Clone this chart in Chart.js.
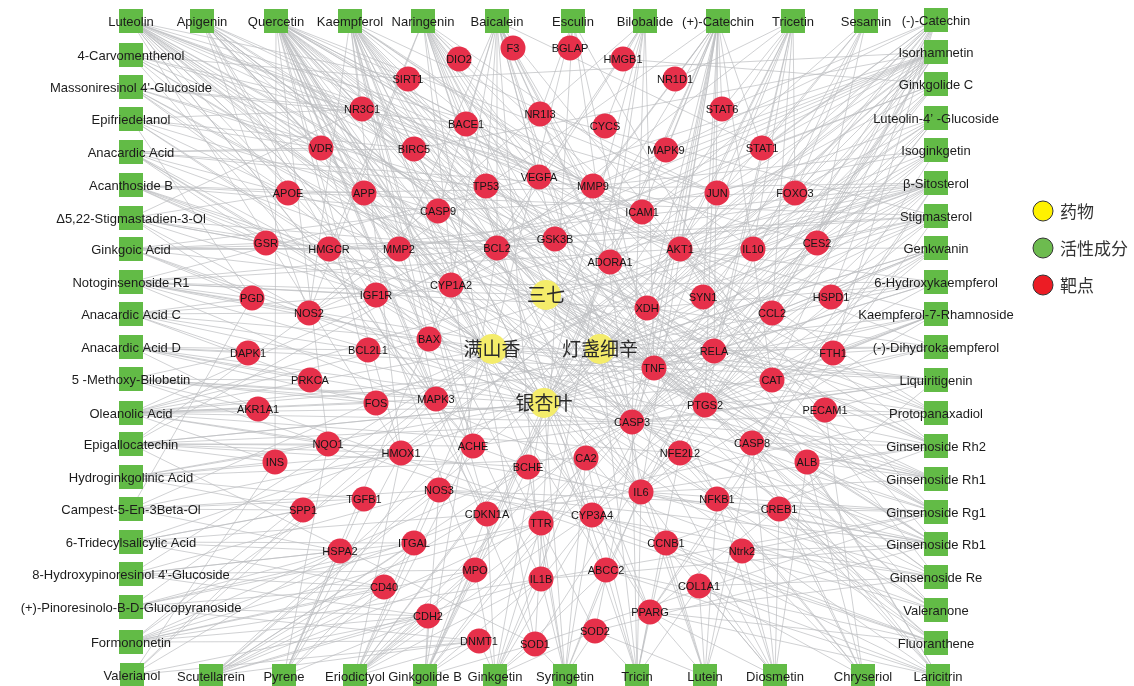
<!DOCTYPE html>
<html>
<head>
<meta charset="utf-8">
<script src="https://cdn.jsdelivr.net/npm/chart.js@4"></script>
<style>
  body { margin: 0; background: #fff; }
  canvas { display: block; }
</style>
</head>
<body>
<canvas id="netChart" width="1134" height="686"></canvas>
<script>
// 药物 (herbs)
const drugs = ['三七', '满山香', '灯盏细辛', '银杏叶'];
const drugXY = [[546, 295], [492, 349], [600, 349], [544, 403]];

// 活性成分 (compounds) - left column, bottom row, right column (bottom-up), top row (right-left)
const compounds = [
  'Luteolin', '4-Carvomenthenol', "Massoniresinol 4'-Glucoside", 'Epifriedelanol', 'Anacardic Acid',
  'Acanthoside B', 'Δ5,22-Stigmastadien-3-Ol', 'Ginkgoic Acid', 'Notoginsenoside R1', 'Anacardic Acid C',
  'Anacardic Acid D', '5 -Methoxy-Bilobetin', 'Oleanolic Acid', 'Epigallocatechin', 'Hydroginkgolinic Acid',
  'Campest-5-En-3Beta-Ol', '6-Tridecylsalicylic Acid', "8-Hydroxypinoresinol 4'-Glucoside",
  '(+)-Pinoresinolo-B-D-Glucopyranoside', 'Formononetin', 'Valerianol',
  'Scutellarein', 'Pyrene', 'Eriodictyol', 'Ginkgolide B', 'Ginkgetin', 'Syringetin', 'Tricin',
  'Lutein', 'Diosmetin', 'Chryseriol', 'Laricitrin',
  'Fluoranthene', 'Valeranone', 'Ginsenoside Re', 'Ginsenoside Rb1', 'Ginsenoside Rg1', 'Ginsenoside Rh1',
  'Ginsenoside Rh2', 'Protopanaxadiol', 'Liquiritigenin', '(-)-Dihydrokaempferol', 'Kaempferol-7-Rhamnoside',
  '6-Hydroxykaempferol', 'Genkwanin', 'Stigmasterol', 'β-Sitosterol', 'Isoginkgetin', 'Luteolin-4\u2019 -Glucoside',
  'Ginkgolide C', 'Isorhamnetin', '(-)-Catechin',
  'Sesamin', 'Tricetin', '(+)-Catechin', 'Bilobalide', 'Esculin', 'Baicalein', 'Naringenin',
  'Kaempferol', 'Quercetin', 'Apigenin'
];
const compoundXY = [
  [131, 21], [131, 55], [131, 87], [131, 119], [131, 152], [131, 185], [131, 218], [131, 249], [131, 282],
  [131, 314], [131, 347], [131, 379], [131, 413], [131, 444], [131, 477], [131, 509], [131, 542], [131, 574],
  [131, 607], [131, 642], [132, 675],
  [211, 676], [284, 676], [355, 676], [425, 676], [495, 676], [565, 676], [637, 676], [705, 676], [775, 676],
  [863, 676], [938, 676],
  [936, 643], [936, 610], [936, 577], [936, 544], [936, 512], [936, 479], [936, 446], [936, 413], [936, 380],
  [936, 347], [936, 314], [936, 282], [936, 248], [936, 216], [936, 183], [936, 150], [936, 118], [936, 84],
  [936, 52], [936, 20],
  [866, 21], [793, 21], [718, 21], [645, 21], [573, 21], [497, 21], [423, 21], [350, 21], [276, 21], [202, 21]
];

// 靶点 (targets)
const targets = [
  'F3', 'BGLAP', 'DIO2', 'HMGB1', 'SIRT1', 'NR1D1', 'NR3C1', 'BACE1', 'NR1I3', 'CYCS', 'STAT6', 'VDR', 'BIRC5',
  'MAPK9', 'STAT1', 'APOE', 'APP', 'TP53', 'VEGFA', 'MMP9', 'JUN', 'FOXO3', 'CASP9', 'ICAM1', 'GSR', 'HMGCR',
  'MMP2', 'BCL2', 'GSK3B', 'ADORA1', 'AKT1', 'IL10', 'CES2', 'IGF1R', 'CYP1A2', 'XDH', 'SYN1', 'PGD', 'NOS2',
  'CCL2', 'HSPD1', 'BAX', 'BCL2L1', 'DAPK1', 'RELA', 'FTH1', 'TNF', 'PRKCA', 'CAT', 'FOS', 'MAPK3', 'AKR1A1',
  'PTGS2', 'PECAM1', 'CASP3', 'ACHE', 'CASP8', 'NQO1', 'HMOX1', 'NFE2L2', 'INS', 'BCHE', 'CA2', 'ALB', 'IL6',
  'NOS3', 'TGFB1', 'NFKB1', 'CREB1', 'SPP1', 'CDKN1A', 'CYP3A4', 'TTR', 'CCNB1', 'HSPA2', 'ITGAL', 'Ntrk2',
  'MPO', 'IL1B', 'ABCC2', 'CD40', 'COL1A1', 'PPARG', 'CDH2', 'DNMT1', 'SOD1', 'SOD2'
];
const targetXY = [
  [513, 48], [570, 48], [459, 59], [623, 59], [408, 79], [675, 79], [362, 109], [466, 124], [540, 114],
  [605, 126], [722, 109], [321, 148], [414, 149], [666, 150], [762, 148], [288, 193], [364, 193], [486, 186],
  [539, 177], [593, 186], [717, 193], [795, 193], [438, 211], [642, 212], [266, 243], [329, 249], [399, 249],
  [497, 248], [555, 239], [610, 262], [680, 249], [753, 249], [817, 243], [376, 295], [451, 285], [647, 308],
  [703, 297], [252, 298], [309, 313], [772, 313], [831, 297], [429, 339], [368, 350], [248, 353], [714, 351],
  [833, 353], [654, 368], [310, 380], [772, 380], [376, 403], [436, 399], [258, 409], [705, 405], [825, 410],
  [632, 422], [473, 446], [752, 443], [328, 444], [401, 453], [680, 453], [275, 462], [528, 467], [586, 458],
  [807, 462], [641, 492], [439, 490], [364, 499], [717, 499], [779, 509], [303, 510], [487, 514], [592, 515],
  [541, 523], [666, 543], [340, 551], [414, 543], [742, 551], [475, 570], [541, 579], [606, 570], [384, 587],
  [699, 586], [650, 612], [428, 616], [479, 641], [535, 644], [595, 631]
];

// herb -> compound links
const sanqiParts = ['Notoginsenoside R1', 'Ginsenoside Rh2', 'Ginsenoside Rh1', 'Ginsenoside Rg1', 'Ginsenoside Rb1',
  'Ginsenoside Re', 'Protopanaxadiol', 'β-Sitosterol', 'Stigmasterol', 'Quercetin', 'Δ5,22-Stigmastadien-3-Ol',
  'Fluoranthene', 'Kaempferol'];
const manshanxiangParts = ['4-Carvomenthenol', "Massoniresinol 4'-Glucoside", 'Epifriedelanol', 'Acanthoside B',
  'Oleanolic Acid', 'Campest-5-En-3Beta-Ol', "8-Hydroxypinoresinol 4'-Glucoside",
  '(+)-Pinoresinolo-B-D-Glucopyranoside', 'Formononetin', 'Valerianol', 'Valeranone', 'Pyrene', 'Fluoranthene',
  'Liquiritigenin', '(-)-Dihydrokaempferol', 'Esculin', 'Sesamin', 'β-Sitosterol', 'Stigmasterol', 'Quercetin',
  'Kaempferol', 'Eriodictyol'];
const dengzhanParts = ['Scutellarein', 'Apigenin', 'Luteolin', 'Baicalein', 'Naringenin', 'Eriodictyol', 'Kaempferol',
  'Quercetin', 'Luteolin-4\u2019 -Glucoside', 'Genkwanin', '6-Hydroxykaempferol', 'Kaempferol-7-Rhamnoside', 'Lutein',
  'Diosmetin', 'Chryseriol', 'Tricin', 'Isorhamnetin', 'β-Sitosterol', 'Stigmasterol', 'Liquiritigenin'];
const yinxingParts = ['Luteolin', 'Apigenin', 'Quercetin', 'Kaempferol', 'Isorhamnetin', 'Ginkgolide B', 'Ginkgolide C',
  'Bilobalide', 'Ginkgetin', 'Isoginkgetin', 'Ginkgoic Acid', 'Anacardic Acid', 'Anacardic Acid C', 'Anacardic Acid D',
  '5 -Methoxy-Bilobetin', 'Hydroginkgolinic Acid', '6-Tridecylsalicylic Acid', 'Syringetin', 'Laricitrin', 'Tricetin',
  '(+)-Catechin', '(-)-Catechin', 'Epigallocatechin', 'Tricin', 'β-Sitosterol', 'Stigmasterol', 'Genkwanin',
  '6-Hydroxykaempferol', 'Kaempferol-7-Rhamnoside', 'Sesamin', 'Diosmetin'];

// compound -> target links (same order as compounds)
const compoundTargets = [
  'AKT1 TNF IL6 CASP3 PTGS2 MMP9 BCL2 BAX VEGFA MAPK3 JUN RELA NFE2L2 HMOX1 SIRT1 XDH CYP1A2 APP ACHE ICAM1 TP53',
  'PTGS2 NR3C1 ADORA1 ACHE CES2 TNF SIRT1',
  'AKT1 PTGS2 TNF NR3C1 VDR APOE BACE1',
  'NR3C1 VDR BIRC5 APOE PGD HMGCR CASP9',
  'TP53 CASP3 BCL2 MMP9 NFKB1 VDR BIRC5 GSR MMP2',
  'APOE GSR HMGCR PTGS2 TNF APP CASP9',
  'HMGCR APOE NR3C1 GSR PGD IGF1R NOS2 BCL2',
  'GSR HMGCR MMP2 BCL2 CASP3 PGD CASP9 CYP1A2 GSK3B',
  'PGD NOS2 IGF1R AKT1 CASP3 BCL2 VEGFA TNF IL6 BAX XDH',
  'DAPK1 BCL2L1 NOS2 PGD PRKCA BAX IGF1R',
  'DAPK1 BCL2L1 PRKCA AKR1A1 FOS MAPK3 TNF',
  'PRKCA AKR1A1 FOS CASP3 DAPK1 NQO1 MAPK3',
  'AKR1A1 NQO1 INS FOS MAPK3 PTGS2 CASP3 BAX BCL2 NFE2L2 HMOX1 AKT1 TNF RELA',
  'NQO1 INS HMOX1 ACHE MMP2 MMP9 CASP3 SOD1 CAT BCHE',
  'INS SPP1 NQO1 TGFB1 HMOX1 CA2',
  'SPP1 TGFB1 HSPA2 NOS3 PGD HMOX1',
  'HSPA2 SPP1 ITGAL CD40 TGFB1 CDKN1A',
  'HSPA2 CD40 ITGAL CDH2 MPO NOS3',
  'CD40 CDH2 DNMT1 ITGAL HSPA2 TTR',
  'CDH2 DNMT1 CD40 MPO IL1B CDKN1A TTR CASP3 AKT1',
  'CDH2 DNMT1 SPP1 HSPA2 INS',
  'CDH2 DNMT1 CD40 MPO IL1B NOS3 AKT1 CASP3 TTR ITGAL BCHE',
  'CD40 CDH2 HSPA2 ITGAL TGFB1 NQO1 CYP1A2 HMOX1',
  'CDH2 DNMT1 MPO IL1B NOS3 NFE2L2 HMOX1 AKT1 CASP3 PTGS2 TNF ACHE',
  'CDH2 DNMT1 SOD1 MPO IL1B CDKN1A ADORA1 CASP3 BCL2 TNF NOS3 BCHE',
  'DNMT1 SOD1 SOD2 MPO IL1B ABCC2 TTR CYP3A4 CDKN1A CA2',
  'SOD1 SOD2 ABCC2 IL1B TTR CYP3A4 CA2 BCHE IL6',
  'SOD2 PPARG ABCC2 CCNB1 COL1A1 IL6 CA2 NFE2L2 CASP3',
  'PPARG COL1A1 CCNB1 Ntrk2 NFKB1 IL6 CASP8 SOD2',
  'COL1A1 Ntrk2 CREB1 NFKB1 PPARG CASP8 ALB IL6',
  'Ntrk2 CREB1 ALB COL1A1 CASP8 PECAM1 NFKB1',
  'XDH PTGS2 AKT1 TNF ABCC2 COL1A1 CCNB1 ALB PPARG',
  'CYP1A2 CYP3A4 AKR1A1 NQO1 ABCC2 PPARG CREB1',
  'ADORA1 PTGS2 CYP3A4 NR3C1 ACHE CREB1',
  'AKT1 TNF IL6 CASP3 NOS3 COL1A1 PPARG Ntrk2',
  'AKT1 CASP3 BCL2 TNF IL6 IL1B NOS3 Ntrk2 CREB1 SOD2 HMOX1 NFE2L2',
  'AKT1 GSK3B CASP3 BCL2 BAX TNF IL6 IL1B NOS3 CREB1 Ntrk2 SOD1',
  'TNF IL6 NOS2 PTGS2 CASP3 ALB CASP8',
  'CASP3 CASP8 CASP9 BAX BCL2 TP53 AKT1 CDKN1A CCNB1 ALB',
  'CASP3 BCL2 BAX AKT1 TP53 CDKN1A PECAM1',
  'PTGS2 TNF RELA CASP3 PPARG ACHE PECAM1',
  'XDH PTGS2 AKT1 CAT RELA FTH1',
  'TNF IL6 CASP3 AKT1 PTGS2 CAT FTH1',
  'XDH CYP1A2 AKT1 PTGS2 TNF HSPD1',
  'PTGS2 TNF IL6 AKT1 CASP3 MAPK3 CCL2',
  'HMGCR PPARG APOE CASP3 BCL2 PTGS2 CES2 NR1I3',
  'BCL2 BAX CASP3 CASP8 CASP9 PTGS2 NOS2 HMGCR APOE PPARG AKT1 TNF IL10',
  'MMP9 CASP3 TNF AKT1 NFKB1 MMP2 IL10',
  'TNF IL6 PTGS2 AKT1 CASP3 XDH JUN',
  'ADORA1 CASP3 BCL2 TNF IL1B HMGB1 STAT1',
  'AKT1 PTGS2 TNF IL6 CASP3 BCL2 VEGFA MAPK9 CYP1A2 ICAM1 JUN FOXO3 NFE2L2 HMOX1 NOS2 SIRT1 BIRC5 MMP9',
  'STAT1 STAT6 XDH CAT SOD1 MMP9 AKT1 CCL2 FTH1 HSPD1 IL10 CES2 ADORA1 SYN1',
  'CYP3A4 ABCC2 FOXO3 CES2 STAT1',
  'CYP1A2 STAT6 XDH AKT1 CASP3 PTGS2 JUN FOXO3 IL10 CCL2 NR1D1 RELA',
  'AKT1 TNF IL6 MMP2 MMP9 PTGS2 CASP3 NR1D1 STAT6 STAT1 XDH ICAM1 NOS3 SOD2 MPO CAT GSK3B RELA SYN1 MAPK9',
  'HMGB1 BCL2 CASP3 BAX NOS2 ADORA1 TNF IL1B CYCS',
  'BGLAP SOD1 CAT IL6 TNF NR1I3',
  'AKT1 TNF CASP3 CASP9 BCL2 MMP2 MMP9 VEGFA F3 XDH CYP1A2 STAT1 NFKB1 IL1B PTGS2 TP53 GSK3B BACE1',
  'AKT1 TNF IL6 CASP3 PTGS2 NOS2 CAT SOD1 HMGCR XDH CYP3A4 ABCC2 IL10 NFE2L2 PPARG ACHE DIO2 BACE1',
  'AKT1 TNF IL6 CASP3 PTGS2 BCL2 BAX MMP9 VEGFA JUN MAPK3 NOS2 HMOX1 CYP1A2 CDKN1A TP53 ICAM1 PPARG ACHE BCHE SIRT1 NR3C1',
  'AKT1 TNF IL6 CASP3 PTGS2 MMP9 MMP2 BCL2 BAX VEGFA JUN FOS MAPK3 RELA NFKB1 HMOX1 NQO1 CAT SOD1 SOD2 MPO IL1B INS CCL2 ICAM1 TP53 CDKN1A CYP3A4 CYP1A2 ABCC2 ALB PPARG SIRT1 APP',
  'AKT1 TNF IL6 CASP3 PTGS2 BCL2 MAPK3 CYP1A2 NOS2 XDH GSK3B ICAM1 CDKN1A APOE VDR'
];

const legendItems = ['药物', '活性成分', '靶点'];

const nodeXY = {};
drugs.forEach((n, i) => nodeXY[n] = drugXY[i]);
compounds.forEach((n, i) => nodeXY[n] = compoundXY[i]);
targets.forEach((n, i) => nodeXY[n] = targetXY[i]);

const edges = [];
[sanqiParts, manshanxiangParts, dengzhanParts, yinxingParts].forEach((list, d) => {
  list.forEach(c => { if (nodeXY[c]) edges.push([drugs[d], c]); });
});
compounds.forEach((c, i) => {
  compoundTargets[i].split(' ').forEach(t => { if (nodeXY[t]) edges.push([c, t]); });
});

const toPts = xy => xy.map(p => ({ x: p[0], y: p[1] }));

// edges under the nodes
const edgePlugin = {
  id: 'edges',
  beforeDatasetsDraw(chart) {
    const { ctx, scales } = chart;
    ctx.save();
    ctx.strokeStyle = 'rgba(188,190,192,0.7)';
    ctx.lineWidth = 1;
    edges.forEach(([a, b]) => {
      const p = nodeXY[a], q = nodeXY[b];
      ctx.beginPath();
      ctx.moveTo(scales.x.getPixelForValue(p[0]), scales.y.getPixelForValue(p[1]));
      ctx.lineTo(scales.x.getPixelForValue(q[0]), scales.y.getPixelForValue(q[1]));
      ctx.stroke();
    });
    ctx.restore();
  }
};

// node names + legend
const labelPlugin = {
  id: 'labels',
  afterDatasetsDraw(chart) {
    const { ctx, scales } = chart;
    const px = p => [scales.x.getPixelForValue(p[0]), scales.y.getPixelForValue(p[1])];
    ctx.save();
    ctx.textAlign = 'center';
    ctx.textBaseline = 'middle';

    ctx.font = '13px "Liberation Sans", Arial, sans-serif';
    ctx.fillStyle = '#1c1c1c';
    compounds.forEach((n, i) => {
      const [x, y] = px(compoundXY[i]);
      ctx.fillText(n, x, y + 1);
    });

    ctx.font = '11px "Liberation Sans", Arial, sans-serif';
    ctx.fillStyle = '#161616';
    targets.forEach((n, i) => {
      const [x, y] = px(targetXY[i]);
      ctx.fillText(n, x, y + 1);
    });

    ctx.font = '19px "Noto Sans CJK SC", sans-serif';
    ctx.fillStyle = '#2a2a2a';
    drugs.forEach((n, i) => {
      const [x, y] = px(drugXY[i]);
      ctx.fillText(n, x, y);
    });

    // legend
    const colors = ['#fff200', '#6dbb4f', '#ec1c24'];
    ctx.textAlign = 'left';
    ctx.font = '17px "Noto Sans CJK SC", sans-serif';
    legendItems.forEach((n, i) => {
      const y = 211 + i * 37;
      ctx.beginPath();
      ctx.arc(1043, y, 10, 0, Math.PI * 2);
      ctx.fillStyle = colors[i];
      ctx.fill();
      ctx.strokeStyle = '#333';
      ctx.lineWidth = 1;
      ctx.stroke();
      ctx.fillStyle = '#333';
      ctx.fillText(n, 1060, y + 1);
    });
    ctx.restore();
  }
};

new Chart(document.getElementById('netChart'), {
  type: 'scatter',
  data: {
    datasets: [
      {
        label: '活性成分',
        data: toPts(compoundXY),
        pointStyle: 'rect',
        pointRadius: 17,
        backgroundColor: '#62bb46',
        borderWidth: 0
      },
      {
        label: '靶点',
        data: toPts(targetXY),
        pointStyle: 'circle',
        pointRadius: 12.5,
        backgroundColor: '#e6304a',
        borderWidth: 0
      },
      {
        label: '药物',
        data: toPts(drugXY),
        pointStyle: 'circle',
        pointRadius: 15,
        backgroundColor: '#f4ec6a',
        borderWidth: 0
      }
    ]
  },
  options: {
    responsive: false,
    animation: false,
    layout: { padding: 0, autoPadding: false },
    plugins: {
      legend: { display: false },
      tooltip: { enabled: false }
    },
    scales: {
      x: { type: 'linear', min: 0, max: 1134, display: false },
      y: { type: 'linear', min: 0, max: 686, reverse: true, display: false }
    }
  },
  plugins: [edgePlugin, labelPlugin]
});
</script>
</body>
</html>
